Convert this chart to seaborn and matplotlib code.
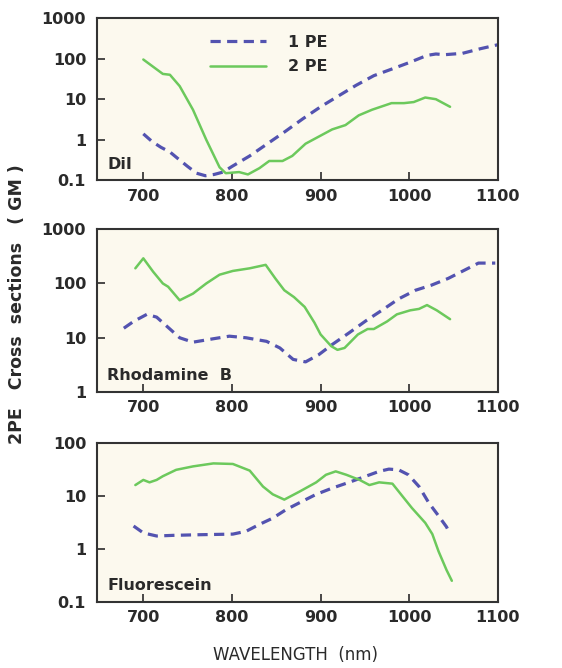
import matplotlib
matplotlib.use("Agg")
import matplotlib.pyplot as plt
import seaborn as sns
import pandas as pd
from matplotlib.ticker import FixedLocator, FixedFormatter, NullLocator

# ---- data ----
dii_1pe_x = [700, 710, 720, 730, 740, 750, 760, 770, 780, 790, 800, 820, 840, 860, 880, 900,
             920, 940, 960, 980, 1000, 1020, 1030, 1040, 1060, 1080, 1100]
dii_1pe_y = [1.4, 0.9, 0.65, 0.5, 0.33, 0.22, 0.15, 0.13, 0.14, 0.16, 0.22, 0.4, 0.8, 1.6, 3.3, 6.5,
             12, 22, 38, 55, 80, 120, 130, 125, 135, 175, 220]
dii_2pe_x = [700, 722, 730, 741, 756, 771, 786, 793, 808, 818, 831, 842, 857, 868, 883, 898,
             913, 928, 943, 958, 980, 994, 1005, 1018, 1030, 1046]
dii_2pe_y = [95, 42, 40, 21, 5.5, 1.0, 0.21, 0.15, 0.16, 0.14, 0.2, 0.3, 0.3, 0.4, 0.8, 1.2,
             1.8, 2.3, 4.0, 5.5, 8.0, 8.0, 8.5, 11, 10, 6.5]

rhb_1pe_x = [678, 689, 704, 715, 730, 741, 756, 779, 797, 816, 839, 854, 869, 883, 898, 913,
             932, 951, 969, 988, 1007, 1025, 1044, 1063, 1078, 1097]
rhb_1pe_y = [15, 20, 27, 24, 14.5, 10, 8.3, 9.6, 10.7, 10, 8.6, 6.5, 4.0, 3.6, 4.9, 7.5,
             12.3, 20.5, 32, 52, 75, 93, 124, 178, 237, 237]
rhb_2pe_x = [691, 700, 711, 722, 728, 741, 756, 771, 786, 801, 820, 838, 849, 859, 870, 882,
             893, 900, 912, 919, 927, 942, 953, 960, 975, 986, 1001, 1011, 1020, 1031, 1046]
rhb_2pe_y = [190, 290, 165, 100, 87, 49, 65, 100, 145, 170, 190, 220, 123, 75, 56, 37,
             19, 11.5, 7, 6, 6.5, 11.5, 14.5, 14.5, 20, 27, 32, 34, 40, 32, 22]

flu_1pe_x = [689, 700, 715, 734, 764, 801, 816, 831, 846, 861, 876, 895, 913, 932, 951, 966,
             977, 988, 999, 1011, 1022, 1033, 1042, 1046]
flu_1pe_y = [2.7, 2.0, 1.75, 1.8, 1.85, 1.9, 2.15, 2.9, 3.8, 5.5, 7.4, 10.7, 14, 18, 23.5, 29,
             32, 31, 25, 15, 7.4, 4.2, 2.6, 1.9]
flu_2pe_x = [691, 700, 707, 715, 722, 737, 756, 779, 801, 820, 835, 846, 859, 876, 895, 906,
             917, 929, 944, 955, 966, 981, 992, 1003, 1018, 1026, 1033, 1042, 1048]
flu_2pe_y = [16, 20, 18, 20, 23.5, 31, 36, 41, 40, 30, 15, 10.7, 8.5, 12, 18, 25,
             29, 25, 20, 16, 18, 17, 10, 5.9, 3.1, 1.9, 0.9, 0.4, 0.25]

dyes = ["DiI", "Rhodamine  B", "Fluorescein"]
y_ranges = [(0.1, 1000), (1, 1000), (0.1, 100)]
x_ticks = [700, 800, 900, 1000, 1100]

sns.set_theme(style="ticks")
plt.rcParams['font.family'] = ['DejaVu Sans']

blue = "#5353b0"
green = "#6cc95c"
face = "#fcf9ee"
ink = "#2a2a2a"

fig = plt.figure(figsize=(5.62, 6.68), dpi=100)
boxes = [(0.173, 0.730, 0.713, 0.243), (0.173, 0.413, 0.713, 0.244), (0.173, 0.099, 0.713, 0.238)]

panels = [
    (dii_1pe_x, dii_1pe_y, dii_2pe_x, dii_2pe_y),
    (rhb_1pe_x, rhb_1pe_y, rhb_2pe_x, rhb_2pe_y),
    (flu_1pe_x, flu_1pe_y, flu_2pe_x, flu_2pe_y),
]

for i, (x1, y1, x2, y2) in enumerate(panels):
    ax = fig.add_axes(boxes[i])
    ax.set_facecolor(face)
    df1 = pd.DataFrame({"wl": x1, "cs": y1})
    df2 = pd.DataFrame({"wl": x2, "cs": y2})
    sns.lineplot(data=df1, x="wl", y="cs", ax=ax, color=blue, lw=2.3,
                 label="1 PE" if i == 0 else None)
    ax.lines[-1].set_dashes((3.2, 2.0))
    sns.lineplot(data=df2, x="wl", y="cs", ax=ax, color=green, lw=1.8,
                 label="2 PE" if i == 0 else None)
    ax.set_yscale("log")
    ax.set_ylim(*y_ranges[i])
    ax.set_xlim(648, 1100)
    lo, hi = y_ranges[i]
    yt = [v for v in [0.1, 1, 10, 100, 1000] if lo <= v <= hi]
    ax.yaxis.set_major_locator(FixedLocator(yt))
    ax.yaxis.set_major_formatter(FixedFormatter([("%g" % v) for v in yt]))
    ax.yaxis.set_minor_locator(NullLocator())
    ax.set_xticks(x_ticks)
    ax.set_xticklabels([str(v) for v in x_ticks])
    ax.tick_params(axis="both", direction="in", length=6, width=1.2, labelsize=11.5,
                   colors=ink, pad=6)
    ax.tick_params(axis="y", pad=8)
    for lab in ax.get_xticklabels() + ax.get_yticklabels():
        lab.set_fontweight("semibold")
    for s in ax.spines.values():
        s.set_visible(True)
        s.set_linewidth(1.5)
        s.set_color("#333333")
    ax.set_xlabel("")
    ax.set_ylabel("")
    ax.text(0.025, 0.1, dyes[i], transform=ax.transAxes, fontsize=11.5,
            fontweight="semibold", color=ink, ha="left", va="center")
    if i == 0:
        leg = ax.legend(loc="upper left", bbox_to_anchor=(0.245, 0.985), frameon=False,
                        prop={"size": 11.5, "weight": "semibold"}, handlelength=3.5,
                        handletextpad=1.4, labelspacing=0.6)
        for t in leg.get_texts():
            t.set_color(ink)
    elif ax.get_legend() is not None:
        ax.get_legend().remove()

fig.text(0.03, 0.545, "2PE   Cross  sections   ( GM )", rotation=90, ha="center",
         va="center", fontsize=12.5, fontweight="semibold", color=ink)
fig.text(0.525, 0.02, "WAVELENGTH  (nm)", ha="center", va="center", fontsize=12,
         color=ink)

fig.savefig("out.png", dpi=100, facecolor="white")
